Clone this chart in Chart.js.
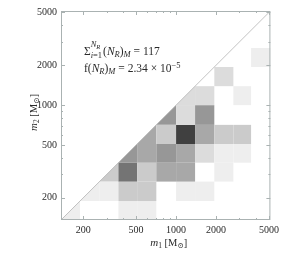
<!DOCTYPE html>
<html>
<head>
<meta charset="utf-8">
<script src="https://cdn.jsdelivr.net/npm/chart.js@4.4.1/dist/chart.umd.min.js"></script>
<style>
  body { margin: 0; background: #fff; }
  canvas { display: block; }
</style>
</head>
<body>
<canvas id="massChart" width="283" height="262"></canvas>
<script>
// bin edges (same bins on both axes), M_sun
const binEdges = [136, 189, 265, 368, 509, 710, 1000, 1390, 1940, 2700, 3670, 5130];
// counts per cell, rows = m2 bins from bottom, cols = m1 bins from left
const counts = [
  [1, 0, 0, 1, 1, 0, 0, 0, 0, 0, 0],
  [0, 1, 1, 3, 3, 0, 1, 1, 0, 0, 0],
  [0, 0, 3, 8, 3, 5, 5, 0, 1, 0, 0],
  [0, 0, 0, 6, 5, 6, 5, 2, 1, 1, 0],
  [0, 0, 0, 0, 5, 3, 11, 5, 3, 3, 0],
  [0, 0, 0, 0, 0, 6, 2, 6, 0, 0, 0],
  [0, 0, 0, 0, 0, 0, 2, 2, 0, 1, 0],
  [0, 0, 0, 0, 0, 0, 0, 0, 2, 0, 0],
  [0, 0, 0, 0, 0, 0, 0, 0, 0, 0, 1],
  [0, 0, 0, 0, 0, 0, 0, 0, 0, 0, 0],
  [0, 0, 0, 0, 0, 0, 0, 0, 0, 0, 0]
];
const tickLabels = [200, 500, 1000, 2000, 5000];
const minorTicks = [300, 400, 600, 700, 800, 900, 3000, 4000];
const totalPairs = "117";
const fraction = "2.34";
const fractionExp = "−5";

const serif = "'Liberation Serif', 'DejaVu Serif', serif";
const textColor = "#2a2a2a";
const frameColor = "#aab2b2";
const maxCount = Math.max(...counts.flat());

function grey(n) {
  const g = Math.round(255 - (255 - 64) * n / maxCount);
  return `rgb(${g},${g},${g})`;
}

// draws a list of text pieces one after the other
function drawRuns(ctx, x, y, runs, align) {
  let w = 0;
  runs.forEach((r) => {
    ctx.font = r.font;
    r.w = ctx.measureText(r.t).width;
    w += r.w;
  });
  let cx = align === "center" ? x - w / 2 : x;
  runs.forEach((r) => {
    ctx.font = r.font;
    ctx.fillText(r.t, cx, y + (r.dy || 0));
    cx += r.w;
  });
}

const f = (size, style) => `${style || ""} ${size}px ${serif}`;

const cellPlugin = {
  id: "cells",
  beforeDatasetsDraw(chart) {
    const { ctx, scales: { x, y } } = chart;
    ctx.save();
    counts.forEach((row, j) => {
      row.forEach((n, i) => {
        if (!n) return;
        const x0 = x.getPixelForValue(binEdges[i]);
        const x1 = x.getPixelForValue(binEdges[i + 1]);
        const y0 = y.getPixelForValue(binEdges[j]);
        const y1 = y.getPixelForValue(binEdges[j + 1]);
        ctx.fillStyle = grey(n);
        ctx.beginPath();
        if (i === j) {
          // cut by m1 = m2, only the part below the diagonal
          ctx.moveTo(x0, y0);
          ctx.lineTo(x1, y0);
          ctx.lineTo(x1, y1);
        } else {
          ctx.rect(x0, y1, x1 - x0, y0 - y1);
        }
        ctx.closePath();
        ctx.fill();
      });
    });
    ctx.restore();
  }
};

const framePlugin = {
  id: "frame",
  afterDatasetsDraw(chart) {
    const { ctx, chartArea: a, scales: { x, y } } = chart;
    ctx.save();
    ctx.strokeStyle = frameColor;
    ctx.lineWidth = 1;
    ctx.strokeRect(a.left + 0.5, a.top + 0.5, a.right - a.left - 1, a.bottom - a.top - 1);
    ctx.beginPath();
    const marks = tickLabels.map((v) => [v, 4]).concat(minorTicks.map((v) => [v, 2]));
    marks.forEach(([v, len]) => {
      const px = Math.round(x.getPixelForValue(v)) + 0.5;
      ctx.moveTo(px, a.bottom);
      ctx.lineTo(px, a.bottom - len);
      ctx.moveTo(px, a.top);
      ctx.lineTo(px, a.top + len);
      const py = Math.round(y.getPixelForValue(v)) + 0.5;
      ctx.moveTo(a.left, py);
      ctx.lineTo(a.left + len, py);
      ctx.moveTo(a.right, py);
      ctx.lineTo(a.right - len, py);
    });
    ctx.stroke();

    ctx.fillStyle = textColor;
    ctx.textBaseline = "alphabetic";
    // axis titles
    const cxm = (a.left + a.right) / 2 + 3;
    drawRuns(ctx, cxm, 246, [
      { t: "m", font: f(11, "italic") },
      { t: "1", font: f(7.5), dy: 2 },
      { t: " [M", font: f(10.5) },
      { t: "⊙", font: f(7.5), dy: 2 },
      { t: "]", font: f(10.5) }
    ], "center");
    ctx.save();
    ctx.translate(37, (a.top + a.bottom) / 2 - 3);
    ctx.rotate(-Math.PI / 2);
    drawRuns(ctx, 0, 0, [
      { t: "m", font: f(11, "italic") },
      { t: "2", font: f(7.5), dy: 2 },
      { t: " [M", font: f(10.5) },
      { t: "⊙", font: f(7.5), dy: 2 },
      { t: "]", font: f(10.5) }
    ], "center");
    ctx.restore();

    // annotation
    const tx = 84;
    const big = 11.5;
    const small = 8.5;
    ctx.font = f(big);
    const sig = ctx.measureText("Σ").width;
    ctx.fillText("Σ", tx, 55);
    ctx.font = f(small, "italic");
    ctx.fillText("i", tx + sig, 58);
    ctx.font = f(small);
    ctx.fillText("=1", tx + sig + ctx.measureText("i").width, 58);
    ctx.font = f(small, "italic");
    ctx.fillText("N", tx + sig, 47);
    const nW = ctx.measureText("N").width;
    ctx.font = f(6.5, "italic");
    ctx.fillText("R", tx + sig + nW, 49);
    ctx.font = f(small);
    const stackW = ctx.measureText("i=1").width + 1;
    drawRuns(ctx, tx + sig + stackW, 55, [
      { t: "(", font: f(big) },
      { t: "N", font: f(big, "italic") },
      { t: "R", font: f(small, "italic"), dy: 2 },
      { t: ")", font: f(big) },
      { t: "M", font: f(small, "italic"), dy: 2 },
      { t: " = " + totalPairs, font: f(big) }
    ]);
    drawRuns(ctx, tx, 72, [
      { t: "f(", font: f(big) },
      { t: "N", font: f(big, "italic") },
      { t: "R", font: f(small, "italic"), dy: 2 },
      { t: ")", font: f(big) },
      { t: "M", font: f(small, "italic"), dy: 2 },
      { t: " = " + fraction + " × 10", font: f(big) },
      { t: fractionExp, font: f(small), dy: -4 }
    ]);
    ctx.restore();
  }
};

const axisOptions = (fit) => ({
  type: "logarithmic",
  min: binEdges[0],
  max: binEdges[binEdges.length - 1],
  grid: { display: false, drawTicks: false },
  border: { display: false },
  ticks: {
    font: { family: serif, size: 10 },
    color: textColor,
    padding: 4,
    autoSkip: false,
    maxRotation: 0,
    callback: (v) => String(v)
  },
  afterBuildTicks: (s) => {
    s.ticks = tickLabels.map((v) => ({ value: v }));
  },
  afterFit: fit
});

const ctx = document.getElementById("massChart").getContext("2d");
new Chart(ctx, {
  type: "scatter",
  data: {
    datasets: [
      {
        // m1 = m2 line
        data: [
          { x: binEdges[0], y: binEdges[0] },
          { x: binEdges[binEdges.length - 1], y: binEdges[binEdges.length - 1] }
        ],
        showLine: true,
        borderColor: "#b4b4b4",
        borderWidth: 0.8,
        pointRadius: 0
      }
    ]
  },
  options: {
    responsive: false,
    animation: false,
    devicePixelRatio: 1,
    layout: { padding: { top: 11, right: 11, left: 0, bottom: 0 } },
    plugins: { legend: { display: false }, tooltip: { enabled: false } },
    scales: {
      x: axisOptions((s) => { s.height = 42; }),
      y: axisOptions((s) => { s.width = 61; })
    }
  },
  plugins: [cellPlugin, framePlugin]
});
</script>
</body>
</html>
